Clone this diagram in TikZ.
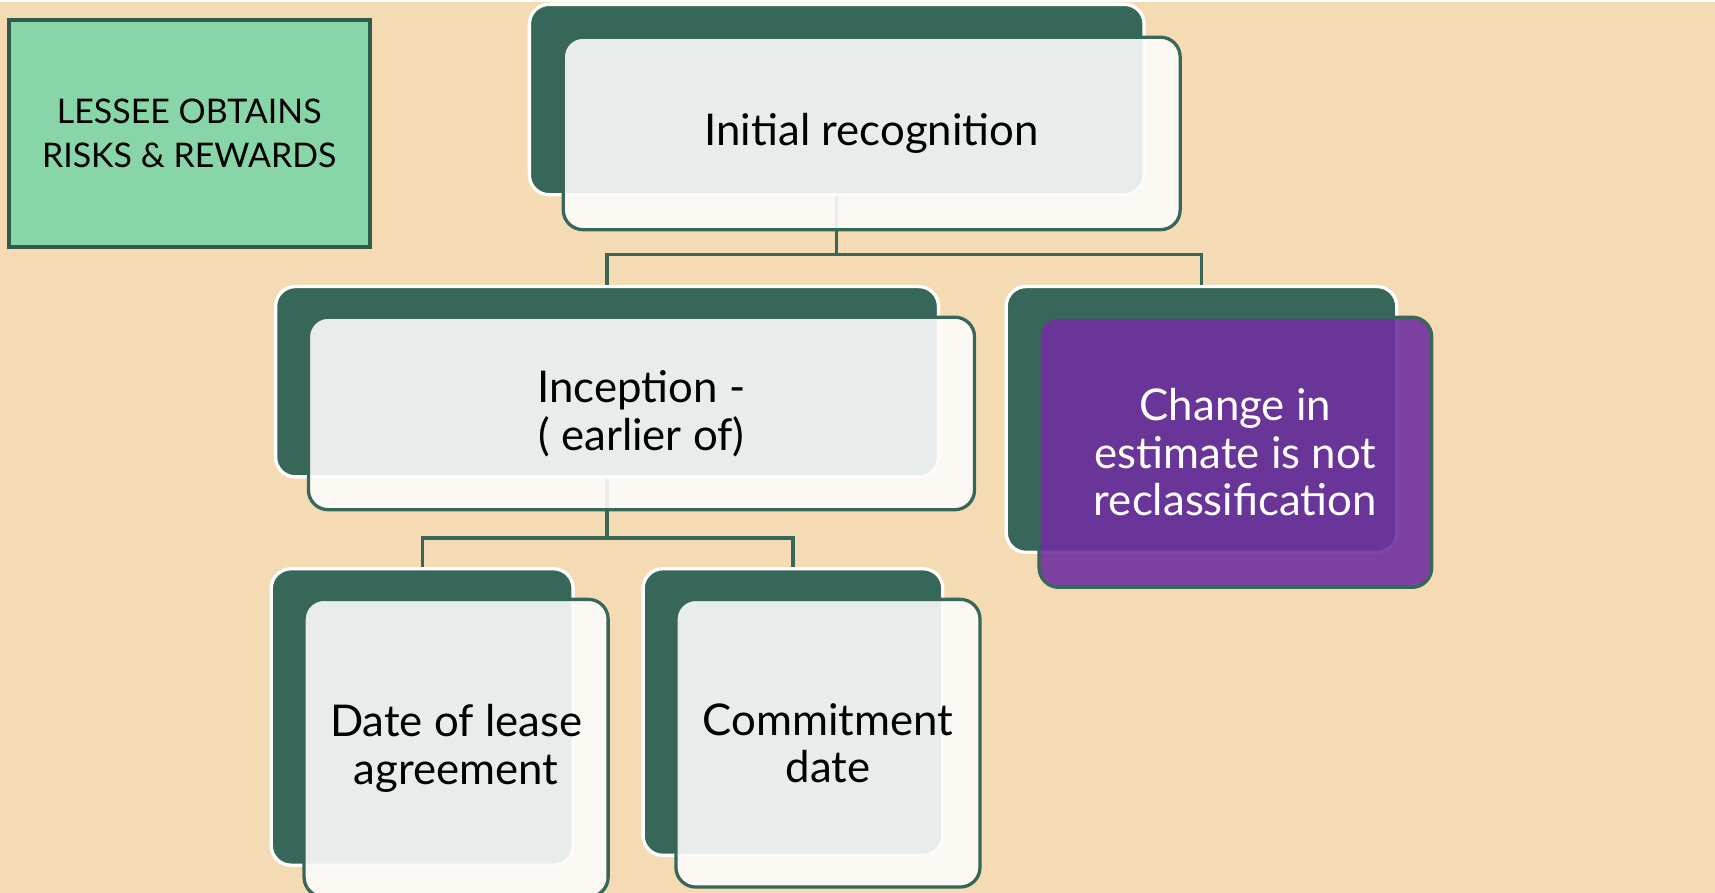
\documentclass[tikz,border=0pt]{standalone}
\usepackage{fontspec}
\setmainfont{Lato}
\definecolor{pagebeige}{RGB}{244,219,179}
\definecolor{cardgreen}{RGB}{55,103,89}
\definecolor{mintfill}{RGB}{136,213,168}
\definecolor{mintedge}{RGB}{47,90,76}
\definecolor{paperwhite}{RGB}{252,251,250}
\definecolor{accentpurple}{RGB}{112,48,160}
\tikzset{
  backcard/.style={rectangle, rounded corners=18pt, fill=cardgreen, draw=white,
    line width=3pt, inner sep=0pt},
  frontcard/.style={rectangle, rounded corners=18pt, fill=paperwhite, fill opacity=0.9,
    text opacity=1, draw=cardgreen, line width=3pt, inner sep=0pt, align=center,
    font=\fontsize{40}{43.5}\selectfont, text=black},
  purplecard/.style={frontcard, fill=accentpurple, text=white},
  tagbox/.style={rectangle, fill=mintfill, draw=mintedge, line width=3.5pt, inner sep=0pt,
    align=center, font=\fontsize{31}{40}\selectfont, text=black},
  link/.style={draw=cardgreen, line width=3pt}
}
\begin{document}
\begin{tikzpicture}[x=1pt,y=-1pt]
% page
\fill[pagebeige] (0,0) rectangle (1568,816);
\fill[white] (0,0) rectangle (1568,1.8);
\useasboundingbox (0,0) rectangle (1568,816);

% label in the upper left
\node[tagbox, minimum width=330pt, minimum height=208pt] (tag) at (173,122)
  {LESSEE OBTAINS\\RISKS \& REWARDS};

% back plates of the cards
\node[backcard, minimum width=562pt, minimum height=174pt] (topb) at (765,91) {};
\node[backcard, minimum width=606pt, minimum height=174pt] (incb) at (555,349) {};
\node[backcard, minimum width=357pt, minimum height=243pt] (chgb) at (1098.5,383.5) {};
\node[backcard, minimum width=276pt, minimum height=271pt] (datb) at (386,655.5) {};
\node[backcard, minimum width=274pt, minimum height=262pt] (comb) at (725,651) {};

% connectors between the plates
\coordinate (j1) at (765,233);
\coordinate (j2) at (555,492);
\draw[link] (topb.south) -- (j1) -| (incb.north);
\draw[link] (j1) -| (chgb.north);
\draw[link] (incb.south) -- (j2) -| (datb.north);
\draw[link] (j2) -| (comb.north);

% front faces carrying the text
\node[frontcard, minimum width=564pt, minimum height=176pt] (top) at (797,122)
  {Initial recognition};
\node[frontcard, minimum width=609pt, minimum height=176pt] (inc) at (586.5,378)
  {Inception -\\( earlier of)};
\node[purplecard, minimum width=359pt, minimum height=247pt] (chg) at (1129.5,413.5)
  {Change in\\estimate is not\\reclassification};
\node[frontcard, minimum width=278pt, minimum height=272pt] (dat) at (417,684)
  {Date of lease\\agreement};
\node[frontcard, minimum width=278pt, minimum height=263pt] (com) at (757,679.5)
  {Commitment\\date};
\end{tikzpicture}
\end{document}
